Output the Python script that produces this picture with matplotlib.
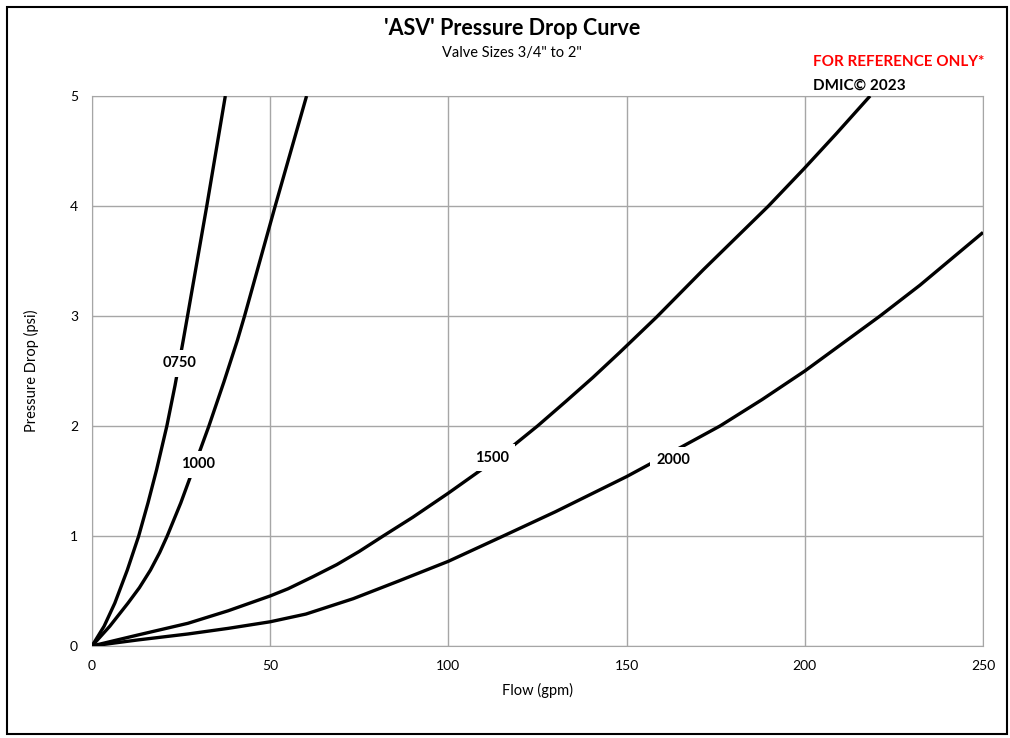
import matplotlib
matplotlib.use("Agg")
import matplotlib.pyplot as plt
from matplotlib.patches import Rectangle

plt.rcParams['font.family'] = ['Lato', 'DejaVu Sans']

# flow (gpm) / pressure drop (psi)
flow_0750 = [0, 3.4, 6.4, 9.9, 13.1, 15.7, 18.1, 21.0, 23.3, 25.6, 26.8, 29.5, 32.2, 34.8, 37.4]
dp_0750 = [0, 0.18, 0.39, 0.69, 1.0, 1.3, 1.6, 2.0, 2.37, 2.78, 3.0, 3.5, 4.0, 4.5, 5.0]

flow_1000 = [0, 5.0, 10.1, 13.3, 16.4, 19.0, 21.1, 24.9, 28.3, 32.8, 37.0, 40.8, 42.8, 47.1, 51.4, 55.8, 60.2]
dp_1000 = [0, 0.18, 0.39, 0.53, 0.69, 0.85, 1.0, 1.3, 1.6, 2.0, 2.4, 2.78, 3.0, 3.5, 4.0, 4.5, 5.0]

flow_1500 = [0, 12.9, 26.9, 38.2, 50, 55, 62, 68.7, 75, 81.7, 90, 100, 110, 117, 125, 133, 140.5,
             148.1, 158.4, 171.5, 189.8, 199.8, 208.9, 218.3]
dp_1500 = [0, 0.10, 0.206, 0.32, 0.455, 0.52, 0.63, 0.74, 0.86, 1.0, 1.17, 1.39, 1.62, 1.79, 2.0, 2.225, 2.44,
           2.67, 2.99, 3.42, 4.0, 4.34, 4.66, 5.0]

flow_2000 = [0, 12.9, 26.9, 38.2, 50, 60, 73.3, 86, 100, 115.4, 130, 150, 166, 176.2,
             188, 200, 221.1, 232.3, 250]
dp_2000 = [0, 0.055, 0.109, 0.16, 0.22, 0.29, 0.43, 0.59, 0.77, 1.0, 1.22, 1.54, 1.82, 2.0,
           2.24, 2.5, 3.0, 3.28, 3.76]

labels = ['0750', '1000', '1500', '2000']
label_pos = [(24.6, 2.57), (29.8, 1.65), (112.1, 1.71), (163.2, 1.69)]

fig = plt.figure(figsize=(10.1, 7.38), dpi=100)
ax = fig.add_axes([0.0911, 0.1247, 0.8822, 0.7452])

for fx, dp in [(flow_0750, dp_0750), (flow_1000, dp_1000), (flow_1500, dp_1500), (flow_2000, dp_2000)]:
    ax.plot(fx, dp, color='black', lw=2.4, solid_capstyle='butt', solid_joinstyle='round', zorder=3)

for txt, (lx, ly) in zip(labels, label_pos):
    ax.text(lx, ly, txt, ha='center', va='center', fontsize=10.5, fontweight='bold', zorder=4,
            bbox=dict(boxstyle='square,pad=0.45', fc='white', ec='none'))

ax.set_xlim(0, 250)
ax.set_ylim(0, 5)
ax.set_xticks([0, 50, 100, 150, 200, 250])
ax.set_yticks([0, 1, 2, 3, 4, 5])
ax.grid(True, color='#a6a6a6', lw=1)
ax.set_axisbelow(True)
for s in ax.spines.values():
    s.set_color('#a6a6a6')
ax.tick_params(length=0, labelsize=10, pad=10)
ax.set_xlabel('Flow (gpm)', fontsize=10.5, labelpad=8)
ax.set_ylabel('Pressure Drop (psi)', fontsize=10.5, labelpad=22)

fig.text(0.507, 0.961, "'ASV' Pressure Drop Curve", ha='center', va='center', fontsize=15.5, fontweight='bold')
fig.text(0.507, 0.928, 'Valve Sizes 3/4" to 2"', ha='center', va='center', fontsize=10.5)
fig.text(0.805, 0.916, 'FOR REFERENCE ONLY*', ha='left', va='center', fontsize=11,
         fontweight='bold', color='#ff0000')
fig.text(0.805, 0.884, 'DMIC\u00a9 2023', ha='left', va='center', fontsize=11, fontweight='bold')

fig.patches.append(Rectangle((7 / 1010, 4 / 738), 1000 / 1010, 727 / 738, transform=fig.transFigure,
                             fill=False, ec='black', lw=1.5))

fig.savefig('out.png', dpi=100)
